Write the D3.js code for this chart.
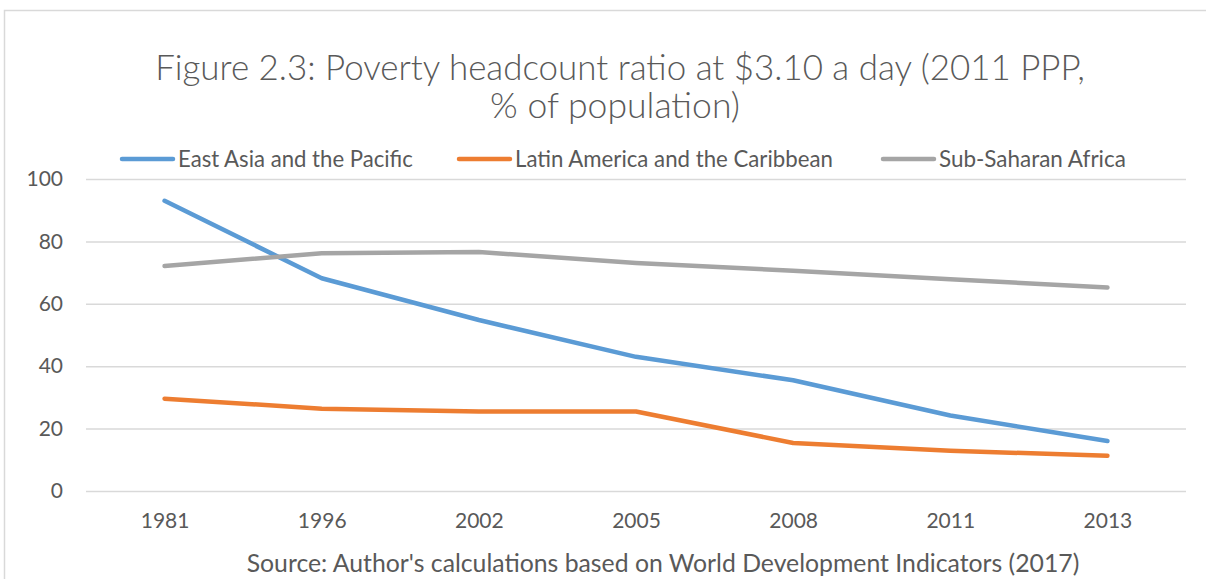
<!DOCTYPE html>
<html>
<head>
<meta charset="utf-8">
<script src="https://cdn.jsdelivr.net/npm/d3@7"></script>
<style>
  html, body { margin: 0; padding: 0; background: #fff; }
  svg { display: block; }
  text { font-family: Lato, "Liberation Sans", sans-serif; fill: #595959; }
</style>
</head>
<body>
<svg id="chart" width="1206" height="579"></svg>
<script>
const years = ["1981", "1996", "2002", "2005", "2008", "2011", "2013"];
const eastAsia = [93.0, 68.2, 54.8, 43.0, 35.5, 24.2, 16.0];
const latinAmerica = [29.6, 26.4, 25.5, 25.5, 15.4, 12.9, 11.3];
const subSaharan = [72.1, 76.2, 76.6, 73.1, 70.6, 67.9, 65.2];
const seriesNames = ["East Asia and the Pacific", "Latin America and the Caribbean", "Sub-Saharan Africa"];
const seriesColors = ["#5b9bd5", "#ed7d31", "#a5a5a5"];
const yTicks = [0, 20, 40, 60, 80, 100];
const titleLines = ["Figure 2.3: Poverty headcount ratio at $3.10 a day (2011 PPP,", "% of population)"];
const sourceText = "Source: Author's calculations based on World Development Indicators (2017)";

const seriesValues = [eastAsia, latinAmerica, subSaharan];
const svg = d3.select("#chart");

// outer chart border
svg.append("rect")
  .attr("x", 4.5).attr("y", 10.5)
  .attr("width", 1300).attr("height", 700)
  .attr("fill", "#fff").attr("stroke", "#d9d9d9").attr("stroke-width", 1.5);

// helper: fit text to a target width
function fit(sel, targetWidth, nominal) {
  sel.style("font-size", nominal + "px");
  const w = sel.node().getComputedTextLength();
  sel.style("font-size", (nominal * targetWidth / w) + "px");
  return sel;
}

const x = d3.scalePoint().domain(years).range([86, 1186]).padding(0.5);
const y = d3.scaleLinear().domain([0, 100]).range([491, 179]);

// gridlines
const yAxis = d3.axisLeft(y).tickValues(yTicks).tickSize(-1100).tickPadding(23).tickFormat(d3.format("d"));
const gy = svg.append("g").attr("transform", "translate(86,0)").call(yAxis);
gy.select(".domain").remove();
gy.selectAll(".tick line").attr("stroke", "#d9d9d9").attr("stroke-width", 1.5);
gy.selectAll(".tick text")
  .attr("fill", "#595959")
  .style("font-family", "Lato, sans-serif")
  .style("font-size", "21px");

// x axis labels
const xAxis = d3.axisBottom(x).tickSize(0).tickPadding(0);
const gx = svg.append("g").attr("transform", "translate(0,491)").call(xAxis);
gx.select(".domain").remove();
gx.selectAll(".tick text")
  .attr("fill", "#595959")
  .attr("dy", null)
  .attr("y", 37)
  .style("font-family", "Lato, sans-serif")
  .style("font-size", "21px");

// lines
const line = d3.line().x((d, i) => x(years[i])).y(d => y(d));
seriesValues.forEach((vals, k) => {
  svg.append("path")
    .datum(vals)
    .attr("d", line)
    .attr("fill", "none")
    .attr("stroke", seriesColors[k])
    .attr("stroke-width", 4.5)
    .attr("stroke-linecap", "round")
    .attr("stroke-linejoin", "round");
});

// title
titleLines.forEach((t, i) => {
  const el = svg.append("text")
    .attr("x", i === 0 ? 620 : 615)
    .attr("y", i === 0 ? 80 : 118)
    .attr("text-anchor", "middle")
    .style("font-weight", 300)
    .text(t);
  fit(el, i === 0 ? 930 : 250, 31);
});

// legend
const legendX = [120, 457, 881];
const legendTextW = [235, 318, 187];
seriesNames.forEach((name, k) => {
  svg.append("line")
    .attr("x1", legendX[k] + 2).attr("x2", legendX[k] + 53)
    .attr("y1", 159).attr("y2", 159)
    .attr("stroke", seriesColors[k]).attr("stroke-width", 4.5)
    .attr("stroke-linecap", "round");
  const el = svg.append("text")
    .attr("x", legendX[k] + 58).attr("y", 167)
    .text(name);
  fit(el, legendTextW[k], 20);
});

// source
const src = svg.append("text")
  .attr("x", 663).attr("y", 572)
  .attr("text-anchor", "middle")
  .text(sourceText);
fit(src, 833, 21);
</script>
</body>
</html>
